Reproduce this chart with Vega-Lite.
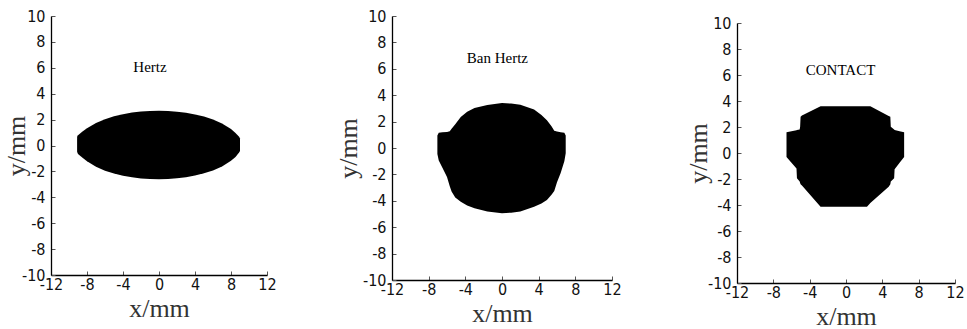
{
  "$schema": "https://vega.github.io/schema/vega-lite/v6.json",
  "background": "white",
  "padding": {"left": 3, "top": 8, "right": 5, "bottom": 2},
  "bounds": "flush",
  "spacing": 125,
  "datasets": {
    "hertz": [
      {"x": -9.1, "top": 0.68, "bot": -0.48},
      {"x": -9.0, "top": 0.8, "bot": -0.65},
      {"x": -8.5, "top": 1.08, "bot": -0.95},
      {"x": -8.0, "top": 1.33, "bot": -1.22},
      {"x": -7.0, "top": 1.74, "bot": -1.65},
      {"x": -6.0, "top": 2.03, "bot": -1.95},
      {"x": -5.0, "top": 2.25, "bot": -2.17},
      {"x": -4.0, "top": 2.42, "bot": -2.34},
      {"x": -3.0, "top": 2.54, "bot": -2.46},
      {"x": -2.0, "top": 2.62, "bot": -2.54},
      {"x": -1.0, "top": 2.67, "bot": -2.59},
      {"x": 0.0, "top": 2.69, "bot": -2.6},
      {"x": 1.0, "top": 2.67, "bot": -2.58},
      {"x": 2.0, "top": 2.61, "bot": -2.53},
      {"x": 3.0, "top": 2.53, "bot": -2.45},
      {"x": 4.0, "top": 2.4, "bot": -2.32},
      {"x": 5.0, "top": 2.23, "bot": -2.15},
      {"x": 6.0, "top": 2.01, "bot": -1.93},
      {"x": 7.0, "top": 1.7, "bot": -1.62},
      {"x": 8.0, "top": 1.27, "bot": -1.18},
      {"x": 8.5, "top": 0.96, "bot": -0.88},
      {"x": 8.9, "top": 0.68, "bot": -0.55},
      {"x": 9.0, "top": 0.55, "bot": -0.42}
    ],
    "ban": [
      {"x": -7.05, "top": 0.95, "bot": -0.45},
      {"x": -6.9, "top": 1.15, "bot": -0.95},
      {"x": -6.5, "top": 1.2, "bot": -1.5},
      {"x": -6.0, "top": 1.22, "bot": -2.2},
      {"x": -5.7, "top": 1.26, "bot": -2.9},
      {"x": -5.5, "top": 1.45, "bot": -3.3},
      {"x": -5.1, "top": 1.8, "bot": -3.75},
      {"x": -4.5, "top": 2.35, "bot": -4.07},
      {"x": -3.8, "top": 2.75, "bot": -4.35},
      {"x": -3.0, "top": 3.03, "bot": -4.57},
      {"x": -1.6, "top": 3.26, "bot": -4.82},
      {"x": 0.0, "top": 3.4, "bot": -4.94},
      {"x": 1.0, "top": 3.37, "bot": -4.9},
      {"x": 2.0, "top": 3.27, "bot": -4.82},
      {"x": 3.5, "top": 2.92, "bot": -4.45},
      {"x": 4.3, "top": 2.5, "bot": -4.2},
      {"x": 4.9, "top": 2.1, "bot": -3.94},
      {"x": 5.4, "top": 1.65, "bot": -3.55},
      {"x": 5.7, "top": 1.3, "bot": -3.25},
      {"x": 6.0, "top": 1.25, "bot": -2.6},
      {"x": 6.4, "top": 1.2, "bot": -1.9},
      {"x": 6.8, "top": 1.15, "bot": -1.0},
      {"x": 6.95, "top": 0.95, "bot": -0.4}
    ],
    "contact": [
      {"x": -6.55, "top": 1.6, "bot": -0.3},
      {"x": -6.0, "top": 1.68, "bot": -0.75},
      {"x": -5.45, "top": 1.75, "bot": -1.2},
      {"x": -5.4, "top": 1.76, "bot": -1.95},
      {"x": -5.1, "top": 1.8, "bot": -2.2},
      {"x": -5.05, "top": 2.02, "bot": -2.3},
      {"x": -5.0, "top": 2.79, "bot": -2.4},
      {"x": -4.85, "top": 2.88, "bot": -2.5},
      {"x": -2.8, "top": 3.6, "bot": -4.13},
      {"x": -2.28, "top": 3.6, "bot": -4.13},
      {"x": 2.31, "top": 3.6, "bot": -4.13},
      {"x": 2.68, "top": 3.6, "bot": -3.85},
      {"x": 4.7, "top": 2.85, "bot": -2.59},
      {"x": 4.88, "top": 2.79, "bot": -2.4},
      {"x": 4.93, "top": 2.02, "bot": -2.2},
      {"x": 5.3, "top": 1.8, "bot": -1.95},
      {"x": 5.35, "top": 1.76, "bot": -1.25},
      {"x": 5.9, "top": 1.68, "bot": -0.75},
      {"x": 6.4, "top": 1.6, "bot": -0.3}
    ]
  },
  "config": {
    "view": {"stroke": null},
    "font": "Liberation Serif",
    "axis": {
      "grid": false,
      "domainColor": "#000000",
      "domainWidth": 1.3,
      "tickColor": "#555555",
      "tickSize": -4,
      "tickWidth": 1,
      "tickCount": 30,
      "labelFont": "Liberation Sans Narrow, DejaVu Sans Condensed, sans-serif",
      "labelFontSize": 16,
      "labelColor": "#111111",
      "labelOverlap": false,
      "labelFlush": false,
      "labelExpr": "toString(datum.value)",
      "titleFont": "Liberation Serif",
      "titleFontSize": 26,
      "titleFontWeight": "normal",
      "titleColor": "#333333"
    },
    "axisX": {"titlePadding": 3, "labelPadding": 5},
    "axisY": {"titlePadding": -8, "labelPadding": 10}
  },
  "hconcat": [
    {
      "width": 216,
      "height": 259,
      "layer": [
        {
          "data": {"name": "hertz"},
          "mark": {"type": "area", "color": "#000000", "interpolate": "linear"},
          "encoding": {
            "x": {"field": "x", "type": "quantitative", "scale": {"domain": [-12, 12]}, "axis": {"values": [-12, -8, -4, 0, 4, 8, 12], "tickCount": 30, "title": "x/mm"}},
            "y": {"field": "top", "type": "quantitative", "scale": {"domain": [-10, 10]}, "axis": {"values": [-10, -8, -6, -4, -2, 0, 2, 4, 6, 8, 10], "tickCount": 30, "title": "y/mm"}},
            "y2": {"field": "bot"}
          }
        },
        {
          "data": {"values": [{"label": "Hertz", "lx": -1.0, "ly": 6.1}]},
          "mark": {"type": "text", "font": "Liberation Serif", "fontSize": 15, "color": "#000000"},
          "encoding": {
            "x": {"field": "lx", "type": "quantitative"},
            "y": {"field": "ly", "type": "quantitative"},
            "text": {"field": "label"}
          }
        }
      ]
    },
    {
      "width": 220,
      "height": 264,
      "layer": [
        {
          "data": {"name": "ban"},
          "mark": {"type": "area", "color": "#000000", "interpolate": "linear"},
          "encoding": {
            "x": {"field": "x", "type": "quantitative", "scale": {"domain": [-12, 12]}, "axis": {"values": [-12, -8, -4, 0, 4, 8, 12], "tickCount": 30, "title": "x/mm"}},
            "y": {"field": "top", "type": "quantitative", "scale": {"domain": [-10, 10]}, "axis": {"values": [-10, -8, -6, -4, -2, 0, 2, 4, 6, 8, 10], "tickCount": 30, "titlePadding": 1, "title": "y/mm"}},
            "y2": {"field": "bot"}
          }
        },
        {
          "data": {"values": [{"label": "Ban Hertz", "lx": -0.5, "ly": 6.8}]},
          "mark": {"type": "text", "font": "Liberation Serif", "fontSize": 15, "color": "#000000"},
          "encoding": {
            "x": {"field": "lx", "type": "quantitative"},
            "y": {"field": "ly", "type": "quantitative"},
            "text": {"field": "label"}
          }
        }
      ]
    },
    {
      "bounds": "flush",
      "spacing": 6,
      "vconcat": [
        {
          "width": 218,
          "height": 1,
          "data": {"values": [{"s": 0}]},
          "mark": {"type": "point", "opacity": 0},
          "encoding": {}
        },
        {
          "width": 218,
          "height": 260,
          "layer": [
            {
              "data": {"name": "contact"},
              "mark": {"type": "area", "color": "#000000", "interpolate": "linear"},
              "encoding": {
                "x": {"field": "x", "type": "quantitative", "scale": {"domain": [-12, 12]}, "axis": {"values": [-12, -8, -4, 0, 4, 8, 12], "tickCount": 30, "title": "x/mm"}},
                "y": {"field": "top", "type": "quantitative", "scale": {"domain": [-10, 10]}, "axis": {"values": [-10, -8, -6, -4, -2, 0, 2, 4, 6, 8, 10], "tickCount": 30, "titlePadding": -4, "title": "y/mm"}},
                "y2": {"field": "bot"}
              }
            },
            {
              "data": {"values": [{"label": "CONTACT", "lx": -0.6, "ly": 6.4}]},
              "mark": {"type": "text", "font": "Liberation Serif", "fontSize": 15, "color": "#000000"},
              "encoding": {
                "x": {"field": "lx", "type": "quantitative"},
                "y": {"field": "ly", "type": "quantitative"},
                "text": {"field": "label"}
              }
            }
          ]
        }
      ]
    }
  ]
}
